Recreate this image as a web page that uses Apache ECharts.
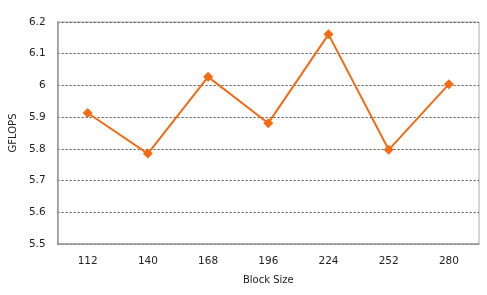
<!DOCTYPE html>
<html><head><meta charset="utf-8">
<script src="https://cdn.jsdelivr.net/npm/echarts@6/dist/echarts.min.js"></script>
<style>html,body{margin:0;padding:0;background:#fff}#c{width:487px;height:295px}</style>
</head><body><div id="c"></div>
<script>
const categories = ['112','140','168','196','224','252','280'];
const gflops = [5.913, 5.785, 6.027, 5.881, 6.161, 5.797, 6.004];
const yMin = 5.5, yMax = 6.2, yStep = 0.1;

const chart = echarts.init(document.getElementById('c'));
chart.setOption({
  animation: false,
  grid: {left: 55, right: 8, top: 22, bottom: 51, show: true, borderColor: '#aaaaaa', borderWidth: 1},
  xAxis: {
    type: 'category', data: categories, boundaryGap: true,
    name: 'Block Size', nameLocation: 'middle', nameGap: 31,
    nameTextStyle: {fontFamily: 'DejaVu Sans', fontSize: 10, color: '#222'},
    axisLine: {lineStyle: {color: '#999999', width: 1.5}},
    axisTick: {inside: true, length: 3, lineStyle: {color: '#777'}},
    axisLabel: {fontFamily: 'DejaVu Sans', fontSize: 10.5, color: '#222', margin: 12}
  },
  yAxis: {
    type: 'value', min: yMin, max: yMax, interval: yStep,
    name: 'GFLOPS', nameLocation: 'middle', nameGap: 38, nameRotate: 90,
    nameTextStyle: {fontFamily: 'DejaVu Sans', fontSize: 10, color: '#222'},
    axisLine: {show: true, lineStyle: {color: '#999999', width: 1.5}},
    axisTick: {show: false},
    axisLabel: {fontFamily: 'DejaVu Sans', fontSize: 10.5, color: '#222', margin: 12,
      formatter: v => (Math.round(v*10)/10).toString()},
    splitLine: {show: true, lineStyle: {color: '#555', type: [2, 2], width: 1}}
  },
  series: [{
    type: 'line', data: gflops,
    symbol: 'diamond', symbolSize: 10,
    lineStyle: {color: '#F56A14', width: 2},
    itemStyle: {color: '#F56A14'}
  }]
});
</script></body></html>
